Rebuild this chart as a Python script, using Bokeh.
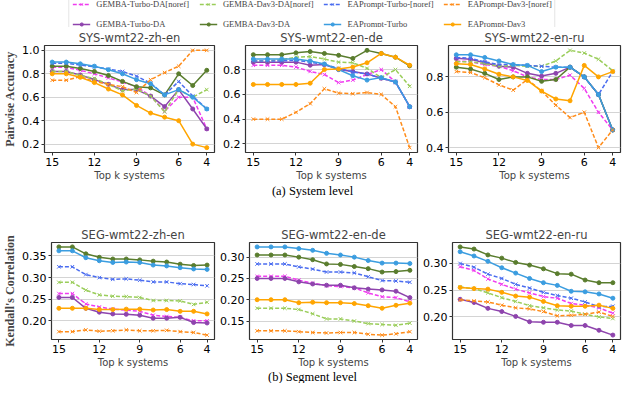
from bokeh.plotting import figure
from bokeh.models import Range1d, FixedTicker, Legend, LegendItem, PrintfTickFormatter
from bokeh.layouts import column, row
from bokeh.embed import file_html
from bokeh.resources import INLINE
from bokeh.core.properties import value

# ---------------- data ----------------
top_k = [15, 14, 13, 12, 11, 10, 9, 8, 7, 6, 5, 4]
x_tick_values = [15, 12, 9, 6, 4]
sys_y_ticks = [0.2, 0.4, 0.6, 0.8, 1.0]
seg_y_ticks = [0.15, 0.20, 0.25, 0.30, 0.35]

series_labels = ["GEMBA-Turbo-DA[noref]", "GEMBA-Turbo-DA",
                 "GEMBA-Dav3-DA[noref]", "GEMBA-Dav3-DA",
                 "EAPrompt-Turbo-[noref]", "EAPrompt-Turbo",
                 "EAPrompt-Dav3-[noref]", "EAPrompt-Dav3"]

sys_titles = ["SYS-wmt22-zh-en", "SYS-wmt22-en-de", "SYS-wmt22-en-ru"]
seg_titles = ["SEG-wmt22-zh-en", "SEG-wmt22-en-de", "SEG-wmt22-en-ru"]
sys_ylabel = "Pairwise Accuracy"
seg_ylabel = "Kendall's Correlation"
x_label = "Top k systems"
caption_a = "(a) System level"
caption_b = "(b) Segment level"

# SYS zh-en
zh_turbo_noref = [0.855, 0.855, 0.83, 0.80, 0.765, 0.73, 0.69, 0.61, 0.48, 0.60, 0.60, 0.33]
zh_turbo = [0.82, 0.82, 0.79, 0.75, 0.71, 0.665, 0.665, 0.61, 0.52, 0.665, 0.50, 0.33]
zh_dav3_noref = [0.82, 0.82, 0.785, 0.76, 0.71, 0.655, 0.67, 0.61, 0.475, 0.665, 0.60, 0.665]
zh_dav3 = [0.865, 0.865, 0.845, 0.82, 0.785, 0.735, 0.69, 0.68, 0.62, 0.80, 0.70, 0.83]
zh_ea_turbo_noref = [0.89, 0.89, 0.875, 0.86, 0.84, 0.82, 0.78, 0.72, 0.62, 0.735, 0.61, 0.50]
zh_ea_turbo = [0.90, 0.90, 0.885, 0.865, 0.835, 0.80, 0.75, 0.715, 0.62, 0.665, 0.60, 0.50]
zh_ea_dav3_noref = [0.745, 0.745, 0.775, 0.735, 0.71, 0.69, 0.64, 0.75, 0.81, 0.865, 1.0, 1.0]
zh_ea_dav3 = [0.80, 0.80, 0.77, 0.725, 0.67, 0.62, 0.53, 0.465, 0.43, 0.40, 0.20, 0.17]

# SYS en-de
de_turbo_noref = [0.835, 0.835, 0.835, 0.82, 0.785, 0.76, 0.695, 0.715, 0.76, 0.80, 0.70, 0.50]
de_turbo = [0.86, 0.86, 0.86, 0.86, 0.835, 0.84, 0.80, 0.785, 0.765, 0.73, 0.70, 0.50]
de_dav3_noref = [0.87, 0.87, 0.88, 0.90, 0.905, 0.885, 0.86, 0.855, 0.81, 0.735, 0.80, 0.665]
de_dav3 = [0.92, 0.92, 0.92, 0.935, 0.945, 0.93, 0.915, 0.89, 0.955, 0.93, 0.90, 0.83]
de_ea_turbo_noref = [0.87, 0.87, 0.87, 0.875, 0.86, 0.84, 0.81, 0.78, 0.765, 0.73, 0.70, 0.50]
de_ea_turbo = [0.885, 0.885, 0.885, 0.885, 0.87, 0.845, 0.80, 0.75, 0.715, 0.735, 0.70, 0.50]
de_ea_dav3_noref = [0.40, 0.40, 0.40, 0.455, 0.525, 0.645, 0.61, 0.605, 0.615, 0.60, 0.50, 0.17]
de_ea_dav3 = [0.68, 0.68, 0.68, 0.68, 0.69, 0.80, 0.805, 0.82, 0.855, 0.93, 0.90, 0.835]

# SYS en-ru
ru_turbo_noref = [0.89, 0.885, 0.87, 0.86, 0.835, 0.80, 0.785, 0.785, 0.81, 0.735, 0.60, 0.50]
ru_turbo = [0.905, 0.90, 0.88, 0.86, 0.855, 0.82, 0.805, 0.82, 0.855, 0.80, 0.70, 0.50]
ru_dav3_noref = [0.885, 0.885, 0.875, 0.86, 0.865, 0.86, 0.86, 0.89, 0.95, 0.935, 0.90, 0.835]
ru_dav3 = [0.855, 0.845, 0.82, 0.785, 0.80, 0.80, 0.775, 0.785, 0.855, 0.80, 0.70, 0.50]
ru_ea_turbo_noref = [0.91, 0.905, 0.885, 0.87, 0.87, 0.865, 0.86, 0.855, 0.855, 0.80, 0.70, 0.83]
ru_ea_turbo = [0.925, 0.925, 0.91, 0.89, 0.87, 0.865, 0.83, 0.855, 0.855, 0.80, 0.70, 0.50]
ru_ea_dav3_noref = [0.83, 0.825, 0.795, 0.755, 0.725, 0.785, 0.72, 0.64, 0.57, 0.60, 0.40, 0.50]
ru_ea_dav3 = [0.875, 0.87, 0.845, 0.815, 0.80, 0.78, 0.72, 0.675, 0.665, 0.865, 0.80, 0.83]

# SEG zh-en
szh_turbo_noref = [0.263, 0.263, 0.239, 0.232, 0.227, 0.225, 0.222, 0.213, 0.210, 0.208, 0.200, 0.200]
szh_turbo = [0.254, 0.254, 0.229, 0.220, 0.216, 0.215, 0.213, 0.206, 0.206, 0.208, 0.196, 0.195]
szh_dav3_noref = [0.289, 0.289, 0.271, 0.260, 0.257, 0.256, 0.254, 0.247, 0.247, 0.246, 0.238, 0.243]
szh_dav3 = [0.371, 0.371, 0.355, 0.347, 0.343, 0.343, 0.341, 0.338, 0.336, 0.331, 0.328, 0.329]
szh_ea_turbo_noref = [0.325, 0.325, 0.307, 0.300, 0.296, 0.297, 0.294, 0.290, 0.290, 0.286, 0.284, 0.281]
szh_ea_turbo = [0.362, 0.362, 0.346, 0.339, 0.335, 0.336, 0.335, 0.329, 0.327, 0.323, 0.320, 0.319]
szh_ea_dav3_noref = [0.175, 0.175, 0.179, 0.176, 0.177, 0.179, 0.177, 0.177, 0.178, 0.175, 0.173, 0.167]
szh_ea_dav3 = [0.229, 0.229, 0.229, 0.226, 0.226, 0.227, 0.227, 0.225, 0.226, 0.222, 0.222, 0.216]

# SEG en-de
sde_turbo_noref = [0.255, 0.255, 0.255, 0.246, 0.239, 0.233, 0.231, 0.228, 0.216, 0.207, 0.205, 0.195]
sde_turbo = [0.250, 0.250, 0.250, 0.242, 0.237, 0.234, 0.234, 0.228, 0.225, 0.223, 0.220, 0.205]
sde_dav3_noref = [0.180, 0.180, 0.180, 0.177, 0.167, 0.155, 0.155, 0.150, 0.144, 0.142, 0.140, 0.145]
sde_dav3 = [0.305, 0.305, 0.305, 0.300, 0.294, 0.284, 0.283, 0.278, 0.273, 0.265, 0.266, 0.269]
sde_ea_turbo_noref = [0.284, 0.284, 0.284, 0.277, 0.272, 0.265, 0.265, 0.263, 0.254, 0.245, 0.244, 0.241]
sde_ea_turbo = [0.324, 0.324, 0.324, 0.320, 0.316, 0.309, 0.305, 0.300, 0.292, 0.286, 0.286, 0.285]
sde_ea_dav3_noref = [0.127, 0.127, 0.127, 0.125, 0.123, 0.122, 0.123, 0.123, 0.119, 0.117, 0.120, 0.125]
sde_ea_dav3 = [0.200, 0.200, 0.200, 0.193, 0.194, 0.193, 0.193, 0.191, 0.186, 0.180, 0.187, 0.192]

# SEG en-ru
sru_turbo_noref = [0.294, 0.287, 0.271, 0.261, 0.252, 0.245, 0.238, 0.235, 0.225, 0.222, 0.217, 0.207]
sru_turbo = [0.233, 0.227, 0.216, 0.210, 0.201, 0.191, 0.190, 0.190, 0.184, 0.184, 0.175, 0.166]
sru_dav3_noref = [0.256, 0.253, 0.245, 0.236, 0.229, 0.221, 0.217, 0.213, 0.211, 0.205, 0.200, 0.197]
sru_dav3 = [0.331, 0.327, 0.316, 0.310, 0.302, 0.297, 0.290, 0.281, 0.280, 0.269, 0.264, 0.264]
sru_ea_turbo_noref = [0.300, 0.293, 0.280, 0.272, 0.261, 0.254, 0.246, 0.240, 0.235, 0.228, 0.219, 0.220]
sru_ea_turbo = [0.322, 0.314, 0.304, 0.292, 0.282, 0.272, 0.264, 0.259, 0.248, 0.247, 0.243, 0.235]
sru_ea_dav3_noref = [0.232, 0.230, 0.228, 0.222, 0.217, 0.215, 0.210, 0.202, 0.203, 0.205, 0.209, 0.201]
sru_ea_dav3 = [0.255, 0.253, 0.252, 0.246, 0.239, 0.237, 0.229, 0.221, 0.220, 0.220, 0.222, 0.216]

# ---------------- styles ----------------
colors = ["#f03cf0", "#8e44ad", "#9acd5a", "#5a7d2e",
          "#4a6cf0", "#3b9de0", "#ff8c1a", "#ffa500"]
dashed = [True, False, True, False, True, False, True, False]

sys_panels = [
    [zh_turbo_noref, zh_turbo, zh_dav3_noref, zh_dav3, zh_ea_turbo_noref, zh_ea_turbo, zh_ea_dav3_noref, zh_ea_dav3],
    [de_turbo_noref, de_turbo, de_dav3_noref, de_dav3, de_ea_turbo_noref, de_ea_turbo, de_ea_dav3_noref, de_ea_dav3],
    [ru_turbo_noref, ru_turbo, ru_dav3_noref, ru_dav3, ru_ea_turbo_noref, ru_ea_turbo, ru_ea_dav3_noref, ru_ea_dav3],
]
seg_panels = [
    [szh_turbo_noref, szh_turbo, szh_dav3_noref, szh_dav3, szh_ea_turbo_noref, szh_ea_turbo, szh_ea_dav3_noref, szh_ea_dav3],
    [sde_turbo_noref, sde_turbo, sde_dav3_noref, sde_dav3, sde_ea_turbo_noref, sde_ea_turbo, sde_ea_dav3_noref, sde_ea_dav3],
    [sru_turbo_noref, sru_turbo, sru_dav3_noref, sru_dav3, sru_ea_turbo_noref, sru_ea_turbo, sru_ea_dav3_noref, sru_ea_dav3],
]

TOTAL_W = 624
FRAME_W = 172
LEFTS = [42, 28, 28]
RIGHTS = [3, 3, 4]
SANS = "DejaVu Sans"
SERIF = "Liberation Serif"


def add_series(p, ys, color, is_dash):
    dash = "4 2" if is_dash else "solid"
    lr = p.line(top_k, ys, line_color=color, line_width=1.5, line_dash=dash)
    if is_dash:
        sr = p.scatter(top_k, ys, marker="x", size=5, line_color=color, line_width=1)
    else:
        sr = p.scatter(top_k, ys, marker="circle", size=4, fill_color=color, line_color=color)
    return lr, sr


def make_panel(idx, title, data, yticks, fmt, ylabel, top, frame_h, bottom):
    lo = min(min(s) for s in data)
    hi = max(max(s) for s in data)
    pad = 0.05 * (hi - lo)
    p = figure(width=LEFTS[idx] + FRAME_W + RIGHTS[idx], height=top + frame_h + bottom,
               x_range=Range1d(15.55, 3.45), y_range=Range1d(lo - pad, hi + pad),
               output_backend="svg", toolbar_location=None,
               min_border_left=LEFTS[idx], min_border_right=RIGHTS[idx],
               min_border_top=top, min_border_bottom=bottom)
    p.title.text = title
    p.title.align = "center"
    p.title.text_font = SANS
    p.title.text_font_size = "11.5px"
    p.title.text_font_style = "normal"
    p.title.standoff = 2
    p.title.offset = 0
    for ys, c, d in zip(data, colors, dashed):
        add_series(p, ys, c, d)
    p.xaxis.ticker = FixedTicker(ticks=x_tick_values)
    p.yaxis.ticker = FixedTicker(ticks=yticks)
    p.yaxis.formatter = PrintfTickFormatter(format=fmt)
    for ax in (p.xaxis[0], p.yaxis[0]):
        ax.axis_line_color = None
        ax.major_tick_line_color = "#333333"
        ax.major_tick_out = 3
        ax.major_tick_in = 0
        ax.minor_tick_line_color = None
        ax.major_label_text_font = SANS
        ax.major_label_text_font_size = "11px"
        ax.major_label_text_color = "black"
        ax.major_label_standoff = 2
    p.xaxis.axis_label = x_label
    p.xaxis.axis_label_text_font = SANS
    p.xaxis.axis_label_text_font_size = "10px"
    p.xaxis.axis_label_text_font_style = "normal"
    p.xaxis.axis_label_standoff = 1
    if ylabel:
        p.yaxis.axis_label = ylabel
        p.yaxis.axis_label_text_font = SERIF
        p.yaxis.axis_label_text_font_size = "12px"
        p.yaxis.axis_label_text_font_style = "bold"
        p.yaxis.axis_label_standoff = 2
    p.xgrid.visible = False
    p.ygrid.grid_line_color = "#d4d4d4"
    p.ygrid.grid_line_width = 1.2
    p.outline_line_color = "#333333"
    p.outline_line_width = 1.2
    p.background_fill_color = "white"
    p.border_fill_color = "white"
    return p


# legend figure
leg = figure(width=TOTAL_W, height=27, x_range=Range1d(0, 1), y_range=Range1d(0, 1),
             output_backend="svg", toolbar_location=None, min_border=0)
leg.axis.visible = False
leg.grid.visible = False
leg.outline_line_color = None
items = {}
for lab, c, d in zip(series_labels, colors, dashed):
    dash = "4 2" if d else "solid"
    lr = leg.line([-5, -4], [-5, -4], line_color=c, line_width=1.5, line_dash=dash)
    if d:
        sr = leg.scatter([-5], [-5], marker="x", size=5, line_color=c, line_width=1)
    else:
        sr = leg.scatter([-5], [-5], marker="circle", size=4, fill_color=c, line_color=c)
    items[lab] = LegendItem(label=lab, renderers=[lr, sr])
legend_order = [0, 2, 4, 6, 1, 3, 5, 7]
legend = Legend(items=[items[series_labels[i]] for i in legend_order],
                orientation="horizontal", ncols=4, location="center",
                label_text_font=SERIF, label_text_font_size="8.5px",
                glyph_width=18, glyph_height=8, label_standoff=6, label_height=9,
                spacing=10, padding=3, margin=0,
                border_line_color="#cccccc", border_line_width=1,
                background_fill_color="white", background_fill_alpha=1)
leg.add_layout(legend, "center")


def caption_fig(text, h, ypos):
    c = figure(width=TOTAL_W, height=h, x_range=Range1d(0, 1), y_range=Range1d(0, 1),
               output_backend="svg", toolbar_location=None, min_border=0)
    c.axis.visible = False
    c.grid.visible = False
    c.outline_line_color = None
    c.text(x=[0.5], y=[ypos], text=[text], text_align="center", text_baseline="middle",
           text_font=value(SERIF), text_font_size="12.5px", text_color="black")
    return c


sys_figs = [make_panel(i, sys_titles[i], sys_panels[i], sys_y_ticks, "%.1f",
                       sys_ylabel if i == 0 else None, 14, 112, 30) for i in range(3)]
seg_figs = [make_panel(i, seg_titles[i], seg_panels[i], seg_y_ticks, "%.2f",
                       seg_ylabel if i == 0 else None, 14, 102, 30) for i in range(3)]

cap_a = caption_fig(caption_a, 41, 0.82)
cap_b = caption_fig(caption_b, 13, 0.5)

layout = column(leg, row(*sys_figs), cap_a, row(*seg_figs), cap_b)

open("out.html", "w").write(file_html(layout, INLINE))
